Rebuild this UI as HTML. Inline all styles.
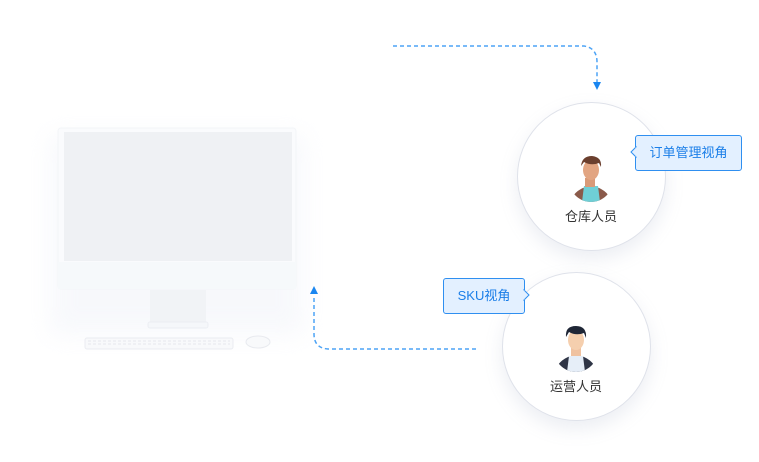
<!DOCTYPE html>
<html><head><meta charset="utf-8"><style>
body{margin:0;width:759px;height:462px;background:#fff;position:relative;overflow:hidden;font-family:"Liberation Sans","Noto Sans CJK SC",sans-serif}
.c{position:absolute;border-radius:50%;background:#fff;border:1px solid #dfe2ea;box-shadow:0 8px 18px rgba(150,160,190,.18)}
.lbl{position:absolute;font-size:13px;color:#333;width:100px;text-align:center}
.tip{position:absolute;background:#e3f0ff;border:1px solid #2f8ff0;border-radius:3px;color:#1a7ee8;font-size:13px;line-height:33px;text-align:center}
</style></head><body>
<svg width="759" height="462" style="position:absolute;left:0;top:0">
<defs><filter id="b" x="-30%" y="-30%" width="160%" height="160%"><feGaussianBlur stdDeviation="12"/></filter></defs>
<rect x="50" y="135" width="254" height="200" fill="#eef1f8" filter="url(#b)" opacity=".45"/>
<rect x="58" y="128" width="238" height="161" rx="3" fill="#fafbfd" stroke="#f3f5f8"/>
<rect x="64" y="132" width="228" height="129" fill="#eff1f4"/>
<rect x="58" y="262" width="238" height="27" fill="#f6f9fb"/>
<rect x="150" y="290" width="56" height="32" fill="#f1f3f6"/>
<rect x="148" y="322" width="60" height="6" rx="2" fill="#f5f7fa" stroke="#eceef3"/>
<rect x="85" y="338" width="148" height="11" rx="2" fill="#f8f9fb" stroke="#eaecf1"/>
<line x1="88" y1="341" x2="230" y2="341" stroke="#e6e8ee" stroke-dasharray="3 2"/>
<line x1="88" y1="344" x2="230" y2="344" stroke="#e6e8ee" stroke-dasharray="3 2"/>
<ellipse cx="258" cy="342" rx="12" ry="6" fill="#f8f9fb" stroke="#e8eaef"/>
<path d="M393 46 H584 Q597 48 597 62 V82" fill="none" stroke="#4da3f5" stroke-width="1.5" stroke-dasharray="4 3"/>
<polygon points="593,82 601,82 597,90" fill="#1a86f0"/>
<path d="M476 349 H328 Q314 348 314 334 V295" fill="none" stroke="#4da3f5" stroke-width="1.5" stroke-dasharray="4 3"/>
<polygon points="310,294 318,294 314,286" fill="#1a86f0"/>
</svg>
<div class="c" style="left:517px;top:102px;width:147px;height:147px"></div>
<div class="c" style="left:502px;top:272px;width:147px;height:147px"></div>
<svg width="759" height="462" style="position:absolute;left:0;top:0">
<clipPath id="k1"><circle cx="591" cy="180" r="22"/></clipPath>
<g clip-path="url(#k1)">
<path d="M570 202 Q575 188 591 186 Q607 188 612 202 Z" fill="#8a5a4a"/>
<path d="M584 186 L598 186 L600 202 L582 202 Z" fill="#6fcfd6"/>
</g>
<rect x="585" y="178" width="10" height="9" fill="#d99a78"/>
<ellipse cx="591" cy="170" rx="8" ry="10" fill="#e2a582"/>
<path d="M581 166 Q582 156 592 156 Q602 157 601 167 L599 163 Q591 166 584 162 Z" fill="#6b3f2e"/>
<clipPath id="k2"><circle cx="576" cy="350" r="22"/></clipPath>
<g clip-path="url(#k2)">
<path d="M554 372 Q560 357 576 355 Q592 357 598 372 Z" fill="#2f3546"/>
<path d="M569 356 L583 356 L585 372 L567 372 Z" fill="#e6eef8"/>
</g>
<rect x="571" y="347" width="10" height="9" fill="#f0c2a0"/>
<ellipse cx="576" cy="340" rx="8" ry="10" fill="#f5cfae"/>
<path d="M566 337 Q565 326 576 326 Q587 326 586 338 L584 333 Q576 336 569 332 Z" fill="#1f2636"/>
</svg>
<div class="lbl" style="left:541px;top:206px">仓库人员</div>
<div class="lbl" style="left:526px;top:376px">运营人员</div>
<div class="tip" style="left:635px;top:135px;width:105px;height:34px">订单管理视角</div>
<div class="tip" style="left:443px;top:278px;width:80px;height:34px">SKU视角</div>
<svg width="759" height="462" style="position:absolute;left:0;top:0">
<polygon points="636,147 631,152 636,157" fill="#e3f0ff" stroke="#2f8ff0"/>
<line x1="636.5" y1="147.5" x2="636.5" y2="156.5" stroke="#e3f0ff" stroke-width="2"/>
<polygon points="524,290 529,295 524,300" fill="#e3f0ff" stroke="#2f8ff0"/>
<line x1="523.5" y1="290.5" x2="523.5" y2="299.5" stroke="#e3f0ff" stroke-width="2"/>
</svg>
</body></html>
